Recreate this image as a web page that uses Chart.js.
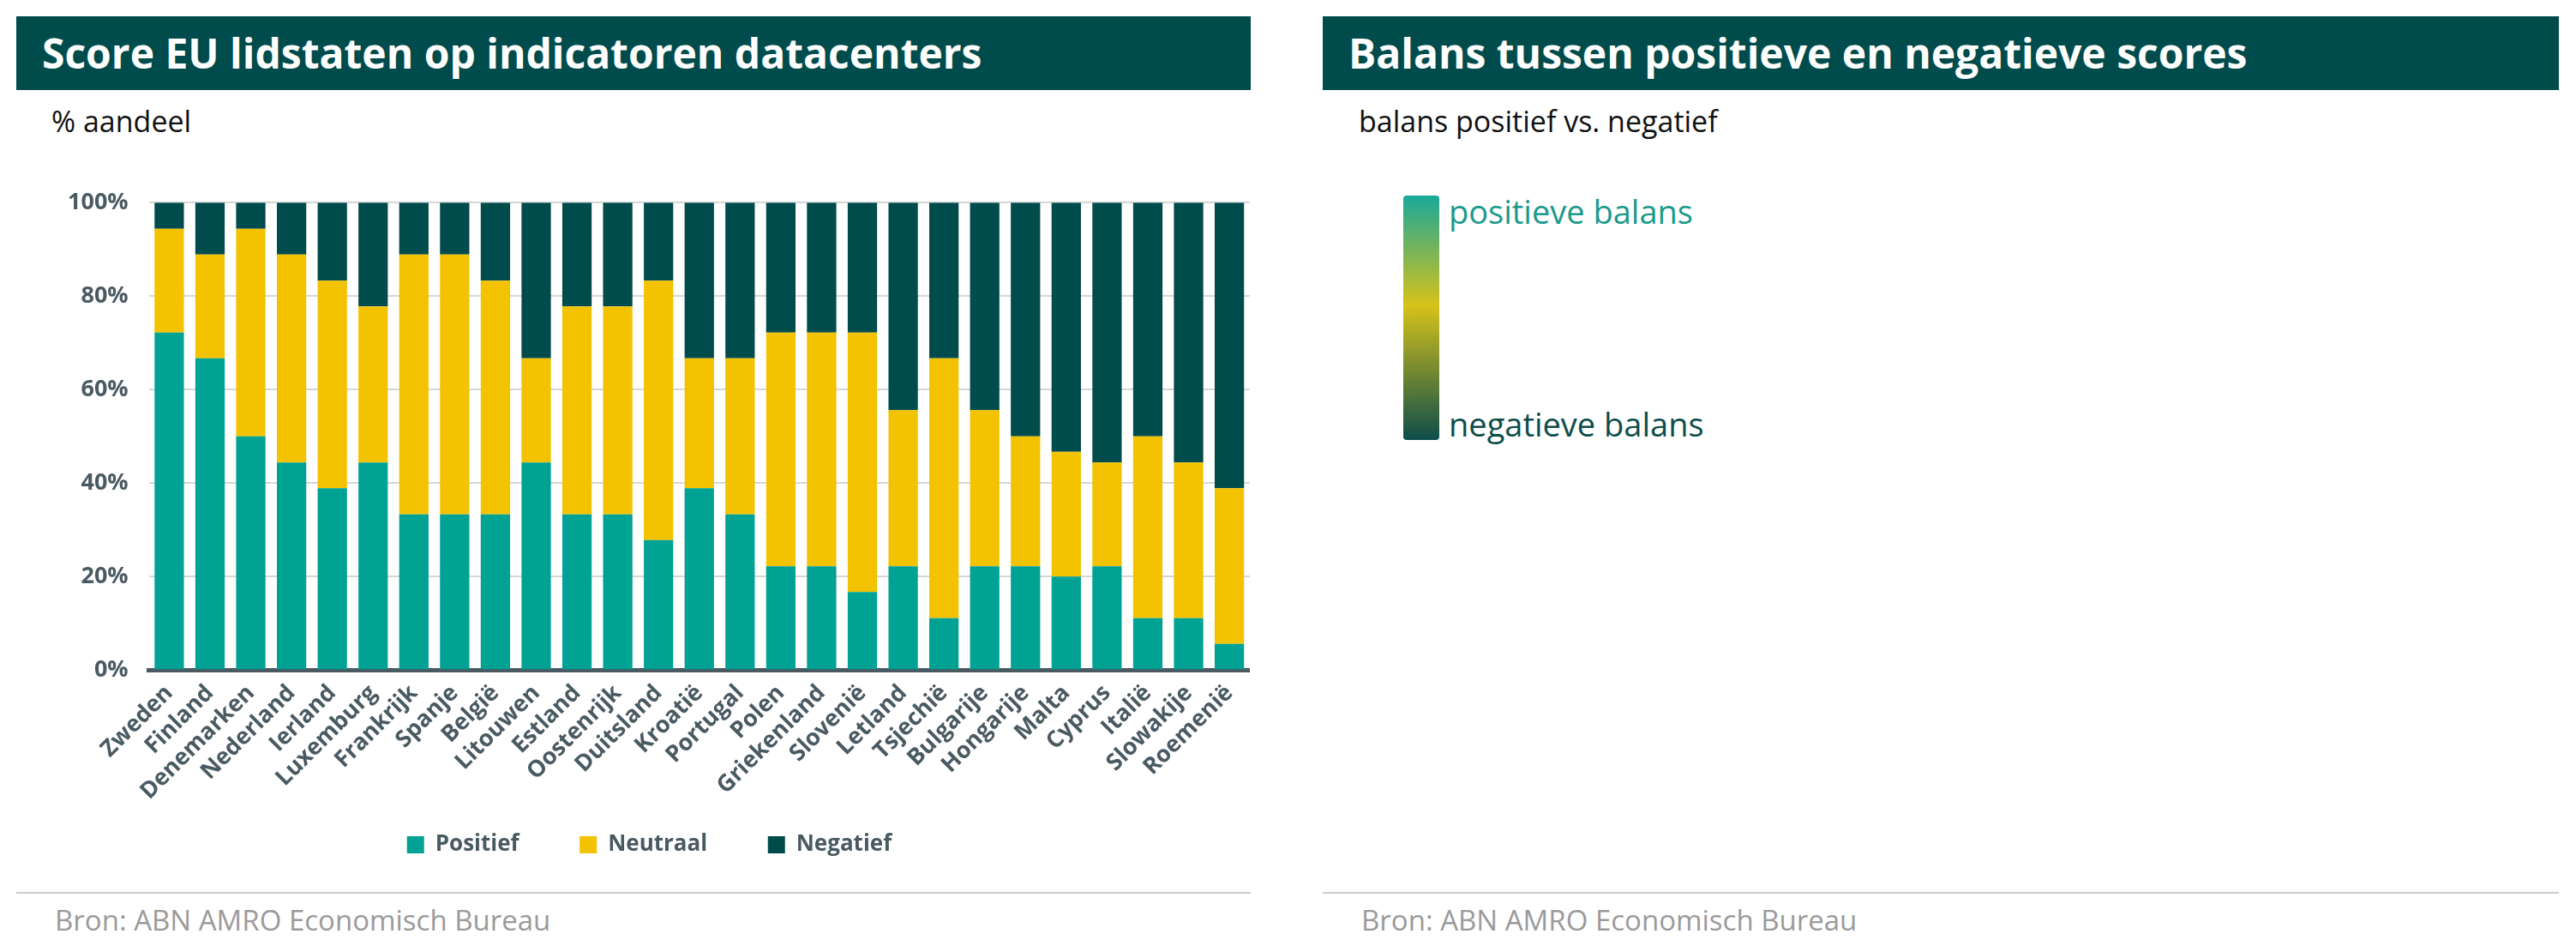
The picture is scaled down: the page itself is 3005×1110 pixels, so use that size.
<!DOCTYPE html>
<html>
<head>
<meta charset="utf-8">
<script src="https://cdn.jsdelivr.net/npm/chart.js@4"></script>
<style>
  body { margin: 0; width: 3005px; height: 1110px; background: #fff; font-family: "Open Sans", sans-serif; position: relative; overflow: hidden; }
  .bar { position: absolute; background: #004c4c; color: #fff; font-weight: bold; font-size: 48px; height: 86px; line-height: 86px; padding-left: 30px; box-sizing: border-box; }
  .sub { position: absolute; font-size: 34px; color: #111; }
  .src { position: absolute; font-size: 33px; color: #9a9a9a; border-top: 2px solid #ccc; padding-top: 8px; }
  #wrap { position: absolute; left: 55px; top: 196px; width: 1405px; height: 812px; }
  .grad { position: absolute; left: 1637px; top: 228px; width: 42px; height: 285px; background: linear-gradient(#1aa89a, #d6c21a 45%, #0d4d4a); border-radius: 4px; }
  .lg { position: absolute; font-size: 38px; }
</style>
</head>
<body>
<div class="bar" style="left:19px; top:19px; width:1440px;">Score EU lidstaten op indicatoren datacenters</div>
<div class="sub" style="left:60px; top:118px;">% aandeel</div>
<div id="wrap"><canvas id="score"></canvas></div>
<div class="src" style="left:19px; top:1040px; width:1440px; padding-left:45px; box-sizing:border-box;">Bron: ABN AMRO Economisch Bureau</div>

<div class="bar" style="left:1543px; top:19px; width:1442px;">Balans tussen positieve en negatieve scores</div>
<div class="sub" style="left:1585px; top:118px;">balans positief vs. negatief</div>
<div class="grad"></div>
<div class="lg" style="left:1690px; top:220px; color:#1a9a8c;">positieve balans</div>
<div class="lg" style="left:1690px; top:468px; color:#0d4d4a;">negatieve balans</div>
<div class="src" style="left:1543px; top:1040px; width:1442px; padding-left:45px; box-sizing:border-box;">Bron: ABN AMRO Economisch Bureau</div>

<script>
// DATA
const countries = ['Zweden', 'Finland', 'Denemarken', 'Nederland', 'Ierland', 'Luxemburg', 'Frankrijk', 'Spanje', 'België', 'Litouwen', 'Estland', 'Oostenrijk', 'Duitsland', 'Kroatië', 'Portugal', 'Polen', 'Griekenland', 'Slovenië', 'Letland', 'Tsjechië', 'Bulgarije', 'Hongarije', 'Malta', 'Cyprus', 'Italië', 'Slowakije', 'Roemenië'];
const positief = [72.2, 66.7, 50, 44.4, 38.9, 44.4, 33.3, 33.3, 33.3, 44.4, 33.3, 33.3, 27.8, 38.9, 33.3, 22.2, 22.2, 16.7, 22.2, 11.1, 22.2, 22.2, 20, 22.2, 11.1, 11.1, 5.6];
const neutraal = [22.2, 22.2, 44.4, 44.5, 44.4, 33.4, 55.6, 55.6, 50, 22.3, 44.5, 44.5, 55.5, 27.8, 33.4, 50, 50, 55.5, 33.4, 55.6, 33.4, 27.8, 26.7, 22.2, 38.9, 33.3, 33.3];
const negatief = [5.6, 11.1, 5.6, 11.1, 16.7, 22.2, 11.1, 11.1, 16.7, 33.3, 22.2, 22.2, 16.7, 33.3, 33.3, 27.8, 27.8, 27.8, 44.4, 33.3, 44.4, 50, 53.3, 55.6, 50, 55.6, 61.1];
const yTicks = [0, 20, 40, 60, 80, 100];

const tickColor = '#4a5a62';

new Chart(document.getElementById('score'), {
  type: 'bar',
  data: {
    labels: countries,
    datasets: [
      { label: 'Positief', data: positief, backgroundColor: '#00a294' },
      { label: 'Neutraal', data: neutraal, backgroundColor: '#f3c200' },
      { label: 'Negatief', data: negatief, backgroundColor: '#004b4b' }
    ]
  },
  options: {
    responsive: true,
    maintainAspectRatio: false,
    animation: false,
    datasets: { bar: { categoryPercentage: 1, barPercentage: 0.72 } },
    plugins: {
      legend: {
        position: 'bottom',
        labels: {
          boxWidth: 20, boxHeight: 20, padding: 30, color: tickColor,
          font: { family: 'Open Sans', size: 26, weight: 'bold' },
          generateLabels: (chart) => Chart.defaults.plugins.legend.labels.generateLabels(chart).map((l, i) => { l.text = i < 2 ? l.text + '      ' : l.text; return l; })
        }
      },
      tooltip: { enabled: false }
    },
    scales: {
      x: {
        stacked: true,
        grid: { display: false, drawTicks: true },
        border: { color: tickColor, width: 5 },
        ticks: { color: tickColor, maxRotation: 45, minRotation: 45, autoSkip: false, font: { family: 'Open Sans', size: 27, weight: 'bold' } }
      },
      y: {
        stacked: true,
        min: 0, max: 100,
        afterBuildTicks: (axis) => { axis.ticks = yTicks.map(v => ({ value: v })); },
        grid: { color: '#d6d6d6', lineWidth: 2, drawTicks: false },
        border: { display: false },
        ticks: { color: tickColor, padding: 24, callback: v => v + '%', font: { family: 'Open Sans', size: 27, weight: 'bold' } }
      }
    }
  }
});
</script>
</body>
</html>
